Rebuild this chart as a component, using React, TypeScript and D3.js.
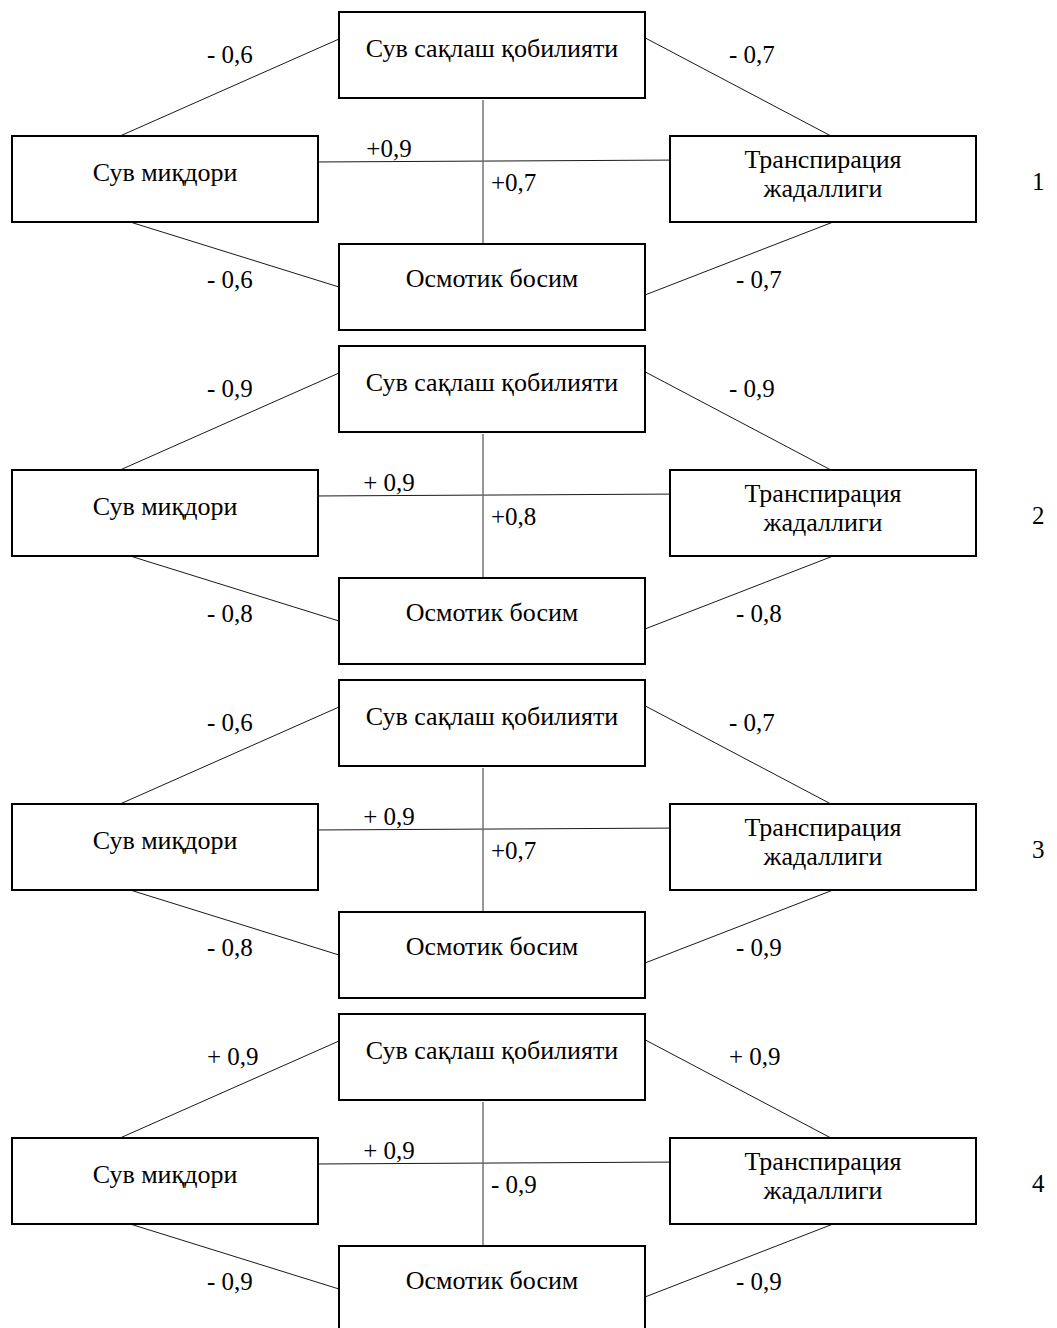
import React from "react";
import * as d3 from "d3";

// ---- data ----
const panelIds: string[] = ["1", "2", "3", "4"];
const nodeNames: string[] = [
  "Сув сақлаш қобилияти",
  "Сув миқдори",
  "Транспирация жадаллиги",
  "Осмотик босим",
];
// edges order: holding–content, holding–transpiration, content–transpiration,
// holding–osmotic, content–osmotic, transpiration–osmotic
const edgePairs: [number, number][] = [
  [0, 1],
  [0, 2],
  [1, 2],
  [0, 3],
  [1, 3],
  [2, 3],
];
const panel1Labels: string[] = ["- 0,6", "- 0,7", "+0,9", "+0,7", "- 0,6", "- 0,7"];
const panel2Labels: string[] = ["- 0,9", "- 0,9", "+ 0,9", "+0,8", "- 0,8", "- 0,8"];
const panel3Labels: string[] = ["- 0,6", "- 0,7", "+ 0,9", "+0,7", "- 0,8", "- 0,9"];
const panel4Labels: string[] = ["+ 0,9", "+ 0,9", "+ 0,9", "- 0,9", "- 0,9", "- 0,9"];
const panelLabels: string[][] = [panel1Labels, panel2Labels, panel3Labels, panel4Labels];

// ---- layout ----
const W = 1057;
const H = 1328;
const FONT = "'Liberation Serif', 'Times New Roman', serif";
const FS_BOX = 26;
const FS_LBL = 25;

const panelY = d3.scaleLinear().domain([0, 1]).range([0, 334]);

const BW = 306;
const BH = 86;
type Box = { x: number; y: number; w: number; h: number; lines: number[]; cx: number };
const boxes: Box[] = [
  { x: 339, y: 12, w: BW, h: BH, lines: [45], cx: 492 }, // top
  { x: 12, y: 136, w: BW, h: BH, lines: [45], cx: 165 }, // left
  { x: 670, y: 136, w: BW, h: BH, lines: [32, 61], cx: 823 }, // right
  { x: 339, y: 244, w: BW, h: BH, lines: [43], cx: 492 }, // bottom
];

type Att = { b: number; side: "top" | "bottom" | "left" | "right"; f: number };
const attach: [Att, Att][] = [
  [{ b: 1, side: "top", f: 0.353 }, { b: 0, side: "left", f: 0.314 }],
  [{ b: 0, side: "right", f: 0.3 }, { b: 2, side: "top", f: 0.526 }],
  [{ b: 1, side: "right", f: 0.302 }, { b: 2, side: "left", f: 0.28 }],
  [{ b: 0, side: "bottom", f: 0.47 }, { b: 3, side: "top", f: 0.47 }],
  [{ b: 1, side: "bottom", f: 0.386 }, { b: 3, side: "left", f: 0.5 }],
  [{ b: 2, side: "bottom", f: 0.533 }, { b: 3, side: "right", f: 0.593 }],
];
const labelPos: { x: number; y: number; anchor: string }[] = [
  { x: 207, y: 63, anchor: "start" },
  { x: 729, y: 63, anchor: "start" },
  { x: 389, y: 157, anchor: "middle" },
  { x: 491, y: 191, anchor: "start" },
  { x: 207, y: 288, anchor: "start" },
  { x: 736, y: 288, anchor: "start" },
];

function pt(a: Att): [number, number] {
  const bx = boxes[a.b];
  switch (a.side) {
    case "top":
      return [bx.x + bx.w * a.f, bx.y];
    case "bottom":
      return [bx.x + bx.w * a.f, bx.y + bx.h];
    case "left":
      return [bx.x, bx.y + bx.h * a.f];
    default:
      return [bx.x + bx.w, bx.y + bx.h * a.f];
  }
}

const lineGen = d3.line<[number, number]>();

function nodeLines(i: number): string[] {
  if (i === 2) {
    const parts = nodeNames[i].split(" ");
    return [parts[0], parts.slice(1).join(" ")];
  }
  return [nodeNames[i]];
}

export default function App() {
  return (
    <svg
      width={W}
      height={H}
      viewBox={`0 0 ${W} ${H}`}
      style={{ position: "absolute", left: 0, top: 0, background: "#fff" }}
      fontFamily={FONT}
    >
      <rect x={0} y={0} width={W} height={H} fill="#fff" />
      {panelIds.map((pid, pi) => (
        <g key={pid} transform={`translate(0,${panelY(pi)})`}>
          {edgePairs.map((e, ei) => {
            const [a, b] = attach[ei];
            let p1 = pt(a);
            let p2 = pt(b);
            const vertical = ei === 3;
            if (vertical) {
              p1 = [Math.round(p1[0]), p1[1] + 2];
              p2 = [Math.round(p1[0]), p2[1] - 1];
            }
            return (
              <path
                key={"e" + ei}
                d={lineGen([p1, p2]) || ""}
                stroke={vertical ? "#6a6a6a" : "#1a1a1a"}
                strokeWidth={vertical ? 1.4 : 1}
                fill="none"
              />
            );
          })}
          {boxes.map((bx, bi) => (
            <g key={"b" + bi}>
              <rect
                x={bx.x}
                y={bx.y}
                width={bx.w}
                height={bx.h}
                fill="none"
                stroke="#000"
                strokeWidth={2}
              />
              {nodeLines(bi).map((t, li) => (
                <text
                  key={li}
                  x={bx.cx}
                  y={bx.y + bx.lines[li]}
                  textAnchor="middle"
                  fontSize={FS_BOX}
                  fill="#000"
                >
                  {t}
                </text>
              ))}
            </g>
          ))}
          {panelLabels[pi].map((t, ei) => (
            <text
              key={"l" + ei}
              x={labelPos[ei].x}
              y={labelPos[ei].y}
              textAnchor={labelPos[ei].anchor as any}
              fontSize={FS_LBL}
              fill="#000"
            >
              {t}
            </text>
          ))}
          <text x={1032} y={190} fontSize={FS_LBL} fill="#000">
            {pid}
          </text>
        </g>
      ))}
    </svg>
  );
}
